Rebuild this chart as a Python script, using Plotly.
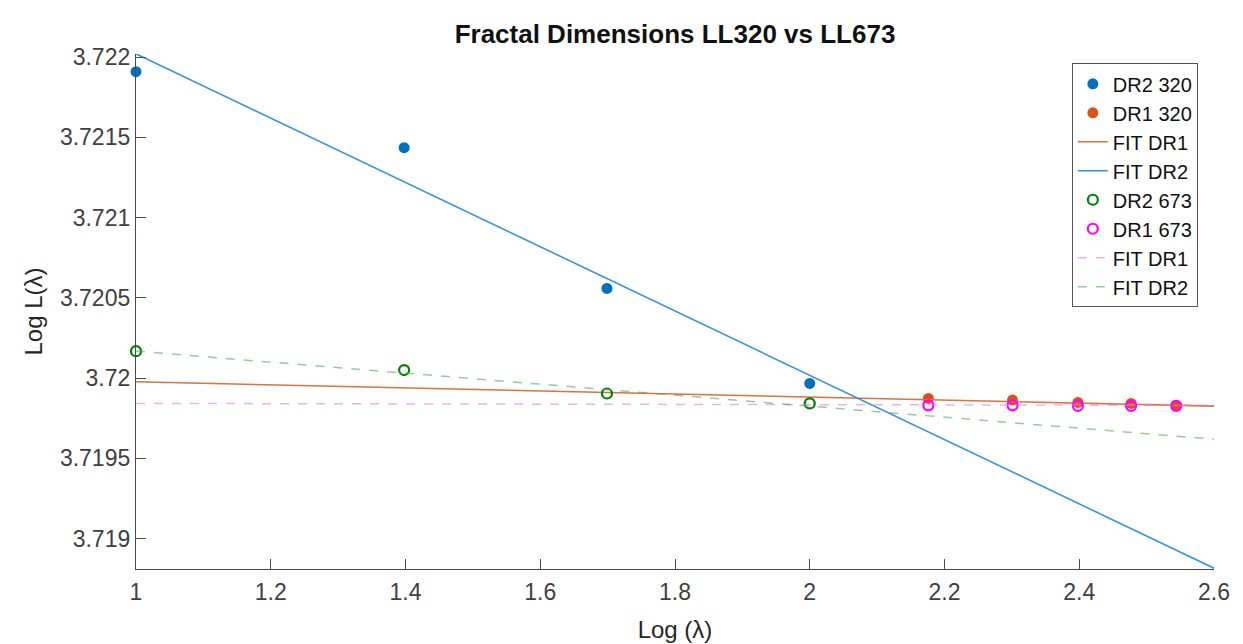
import plotly.graph_objects as go

# ---- data ----
x_dr2 = [1.0, 1.398, 1.699, 2.0]
y_dr2_320 = [3.72191, 3.721436, 3.720559, 3.719967]
y_dr2_673 = [3.720168, 3.72005, 3.719904, 3.719842]

x_dr1 = [2.176, 2.301, 2.398, 2.477, 2.544]
y_dr1_320 = [3.719873, 3.719863, 3.719848, 3.719842, 3.719831]
y_dr1_673 = [3.71983, 3.71983, 3.719827, 3.719827, 3.719827]

fit_x = [1.0, 2.6]
fit_dr1_320 = [3.719977, 3.719825]
fit_dr2_320 = [3.722021, 3.718815]
fit_dr1_673 = [3.719842, 3.71983]
fit_dr2_673 = [3.720168, 3.719619]

x_ticks = [1.0, 1.2, 1.4, 1.6, 1.8, 2.0, 2.2, 2.4, 2.6]
x_ticktext = ["1", "1.2", "1.4", "1.6", "1.8", "2", "2.2", "2.4", "2.6"]
y_ticks = [3.719, 3.7195, 3.72, 3.7205, 3.721, 3.7215, 3.722]
y_ticktext = ["3.719", "3.7195", "3.72", "3.7205", "3.721", "3.7215", "3.722"]

FONT = "Liberation Sans, Arial, Helvetica, sans-serif"
AX = "#4a4a4a"

fig = go.Figure()
fig.add_trace(go.Scatter(x=x_dr2, y=y_dr2_320, mode="markers", name="DR2 320",
                         marker=dict(color="#0072BD", size=11), cliponaxis=False))
fig.add_trace(go.Scatter(x=x_dr1, y=y_dr1_320, mode="markers", name="DR1 320",
                         marker=dict(color="#D95319", size=11), cliponaxis=False))
fig.add_trace(go.Scatter(x=fit_x, y=fit_dr1_320, mode="lines", name="FIT DR1",
                         line=dict(color="#E0703C", width=1.6)))
fig.add_trace(go.Scatter(x=fit_x, y=fit_dr2_320, mode="lines", name="FIT DR2",
                         line=dict(color="#3A93D4", width=1.6)))
fig.add_trace(go.Scatter(x=x_dr2, y=y_dr2_673, mode="markers", name="DR2 673",
                         marker=dict(symbol="circle-open", color="#008000", size=10,
                                     line=dict(width=2.2)), cliponaxis=False))
fig.add_trace(go.Scatter(x=x_dr1, y=y_dr1_673, mode="markers", name="DR1 673",
                         marker=dict(symbol="circle-open", color="#FF00FF", size=10,
                                     line=dict(width=2.2)), cliponaxis=False))
fig.add_trace(go.Scatter(x=fit_x, y=fit_dr1_673, mode="lines", name="FIT DR1",
                         line=dict(color="rgba(230,120,230,0.6)", width=1.5, dash="dash")))
fig.add_trace(go.Scatter(x=fit_x, y=fit_dr2_673, mode="lines", name="FIT DR2",
                         line=dict(color="rgba(80,170,80,0.6)", width=1.5, dash="dash")))

fig.update_layout(
    width=1243, height=644,
    margin=dict(l=136, r=29, t=54, b=75),
    paper_bgcolor="white", plot_bgcolor="white",
    font=dict(family=FONT, color="#262626"),
    title=dict(text="<b>Fractal Dimensions LL320 vs LL673</b>", x=(136 + 1214) / 2 / 1243,
               xanchor="center", y=1 - 34 / 644, yanchor="middle",
               font=dict(size=26, color="#111111")),
    showlegend=True,
    legend=dict(x=0.985, y=0.982, xanchor="right", yanchor="top",
                bgcolor="white", bordercolor="#555555", borderwidth=1,
                font=dict(size=20, color="#111111"), tracegroupgap=0,
                itemwidth=30),
    xaxis=dict(range=[1.0, 2.6], tickvals=x_ticks, ticktext=x_ticktext,
               showgrid=False, zeroline=False, showline=True, linecolor=AX, linewidth=1.3,
               ticks="inside", ticklen=10, tickcolor=AX, tickwidth=1.3,
               ticklabelstandoff=2, automargin=False,
               tickfont=dict(size=23, color="#404040"),
               title=dict(text="Log (λ)", font=dict(size=24, color="#262626"), standoff=17)),
    yaxis=dict(range=[3.71881, 3.72202], tickvals=y_ticks, ticktext=y_ticktext,
               showgrid=False, zeroline=False, showline=True, linecolor=AX, linewidth=1.3,
               ticks="inside", ticklen=10, tickcolor=AX, tickwidth=1.3,
               automargin=False,
               tickfont=dict(size=23, color="#404040"),
               title=dict(text="Log L(λ)", font=dict(size=24, color="#262626"), standoff=10)),
)

fig.write_html("out.html")
